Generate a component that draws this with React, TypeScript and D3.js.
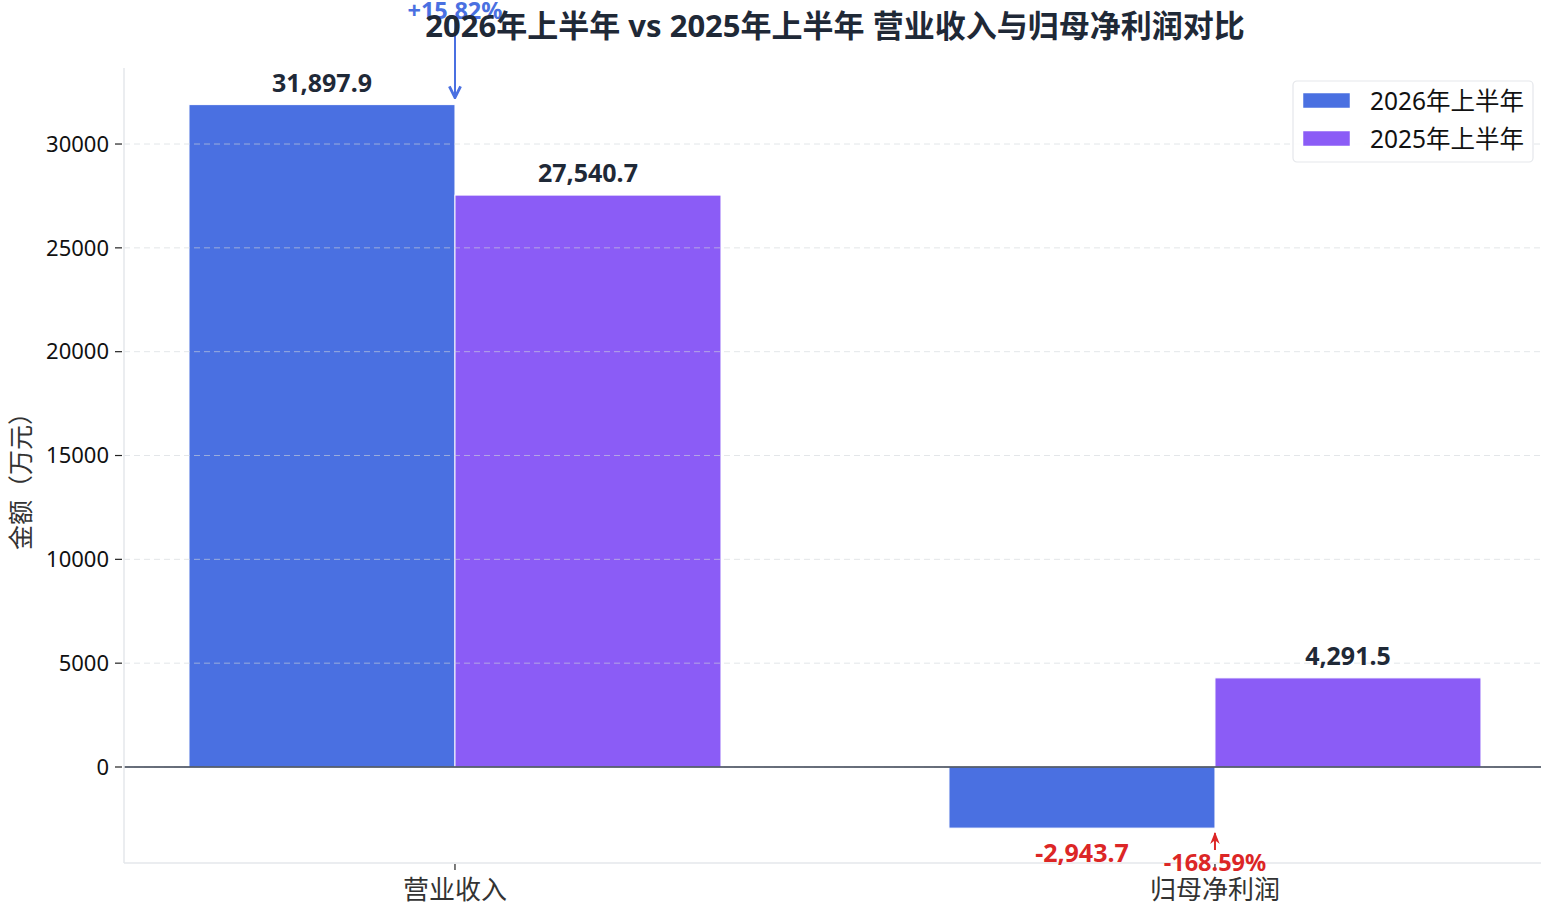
import * as d3 from 'd3';
import React from 'react';

const categories = ['营业收入', '归母净利润'];
const seriesNames = ['2026年上半年', '2025年上半年'];
const values2026 = [31897.9, -2943.7];
const values2025 = [27540.7, 4291.5];
const changes = ['+15.82%', '-168.59%'];
const yTicks = [0, 5000, 10000, 15000, 20000, 25000, 30000];

const W = 1541;
const H = 908;
const FONT = '"Noto Sans", "Noto Sans CJK SC", sans-serif';
const BLUE = '#4a70e1';
const PURPLE = '#8b5cf6';
const RED = '#dc2626';
const DARK = '#1f2937';

const fmt = (v: number) => d3.format(',.1f')(v).replace('−', '-');

const App: React.FC = () => {
  const left = 124;
  const right = 1541;
  const top = 68;
  const bottom = 863;

  const y = d3.scaleLinear().domain([-4623, 33661]).range([bottom, top]);
  const x = d3.scaleLinear().domain([-0.4355, 1.429]).range([left, right]);
  const barW = 0.35;
  const colors = [BLUE, PURPLE];
  const series = [values2026, values2025];

  return (
    <svg width={W} height={H} style={{ display: 'block', position: 'absolute', left: 0, top: 0 }} fontFamily={FONT}>
      <rect width={W} height={H} fill="#fff" />

      {/* bars */}
      {series.map((vals, s) =>
        vals.map((v, i) => {
          const x0 = x(i + (s === 0 ? -barW : 0));
          const x1 = x(i + (s === 0 ? 0 : barW));
          return (
            <rect
              key={`${s}-${i}`}
              x={x0}
              y={Math.min(y(v), y(0))}
              width={x1 - x0}
              height={Math.abs(y(v) - y(0))}
              fill={colors[s]}
              stroke="#fff"
              strokeWidth={1}
            />
          );
        })
      )}

      {/* grid on top */}
      {yTicks.map(t => (
        <line
          key={t}
          x1={left}
          x2={right}
          y1={y(t)}
          y2={y(t)}
          stroke="#d1d5db"
          strokeOpacity={0.6}
          strokeDasharray="6,4"
          strokeWidth={1}
        />
      ))}

      {/* zero line */}
      <line x1={left} x2={right} y1={y(0)} y2={y(0)} stroke="#374151" strokeWidth={1.3} />

      {/* spines */}
      <line x1={left} x2={left} y1={top} y2={bottom} stroke="#e5e7eb" strokeWidth={1.5} />
      <line x1={left} x2={right} y1={bottom} y2={bottom} stroke="#e5e7eb" strokeWidth={1.5} />

      {/* y ticks */}
      {yTicks.map(t => (
        <g key={t} transform={`translate(${left},${y(t)})`}>
          <line x1={-9} x2={-2} stroke="#222" strokeWidth={1.2} />
          <text x={-15} dy="0.35em" textAnchor="end" fontSize={22} fill="#111">
            {t}
          </text>
        </g>
      ))}

      {/* x ticks */}
      {categories.map((c, i) => (
        <g key={c} transform={`translate(${x(i)},${bottom})`}>
          <line y1={1} y2={7} stroke="#222" strokeWidth={1.2} />
          <text y={36} textAnchor="middle" fontSize={26} fill="#333">
            {c}
          </text>
        </g>
      ))}

      {/* y label */}
      <text
        transform={`translate(30,475) rotate(-90)`}
        textAnchor="middle"
        fontSize={25}
        fill="#333"
      >
        金额（万元）
      </text>

      {/* value labels */}
      {series.map((vals, s) =>
        vals.map((v, i) => {
          const cx = x(i + (s === 0 ? -barW / 2 : barW / 2));
          const neg = v < 0;
          return (
            <text
              key={`l${s}-${i}`}
              x={cx}
              y={neg ? y(v) + 34 : y(v) - 13}
              textAnchor="middle"
              fontSize={25}
              fontWeight="bold"
              fill={neg ? RED : DARK}
            >
              {fmt(v)}
            </text>
          );
        })
      )}

      {/* change annotations */}
      <defs>
        <marker id="arrB" viewBox="0 0 10 10" refX="9" refY="5" markerWidth="7" markerHeight="7" orient="auto">
          <path d="M1,1 L9,5 L1,9" fill="none" stroke={BLUE} strokeWidth={2} />
        </marker>
        <marker id="arrR" viewBox="0 0 10 10" refX="9" refY="5" markerWidth="6" markerHeight="6" orient="auto">
          <path d="M0,1 L10,5 L0,9 L3,5 Z" fill={RED} />
        </marker>
      </defs>
      <line
        x1={x(0)}
        x2={x(0)}
        y1={16}
        y2={y(values2026[0]) - 7}
        stroke={BLUE}
        strokeWidth={2}
        markerEnd="url(#arrB)"
      />
      <text x={x(0)} y={19} textAnchor="middle" fontSize={23.5} fontWeight="bold" fill={BLUE}>
        {changes[0]}
      </text>
      <line
        x1={x(1)}
        x2={x(1)}
        y1={850}
        y2={y(values2026[1]) + 5}
        stroke={RED}
        strokeWidth={2}
        markerEnd="url(#arrR)"
      />
      <text x={x(1)} y={871} textAnchor="middle" fontSize={23.5} fontWeight="bold" fill={RED}>
        {changes[1]}
      </text>

      {/* title */}
      <text x={835} y={37} textAnchor="middle" fontSize={31} fontWeight="bold" fill={DARK}>
        2026年上半年 vs 2025年上半年 营业收入与归母净利润对比
      </text>

      {/* legend */}
      <g transform="translate(1293,81)">
        <rect width={240} height={81} rx={4} fill="#fff" fillOpacity={0.9} stroke="#e5e7eb" strokeWidth={1.2} />
        {seriesNames.map((n, i) => (
          <g key={n} transform={`translate(10,${12 + i * 38})`}>
            <rect width={47} height={15} fill={colors[i]} stroke="#fff" strokeWidth={0.5} />
            <text x={67} y={8} dy="0.35em" fontSize={24.5} fill="#111">
              {n}
            </text>
          </g>
        ))}
      </g>
    </svg>
  );
};

export default App;
